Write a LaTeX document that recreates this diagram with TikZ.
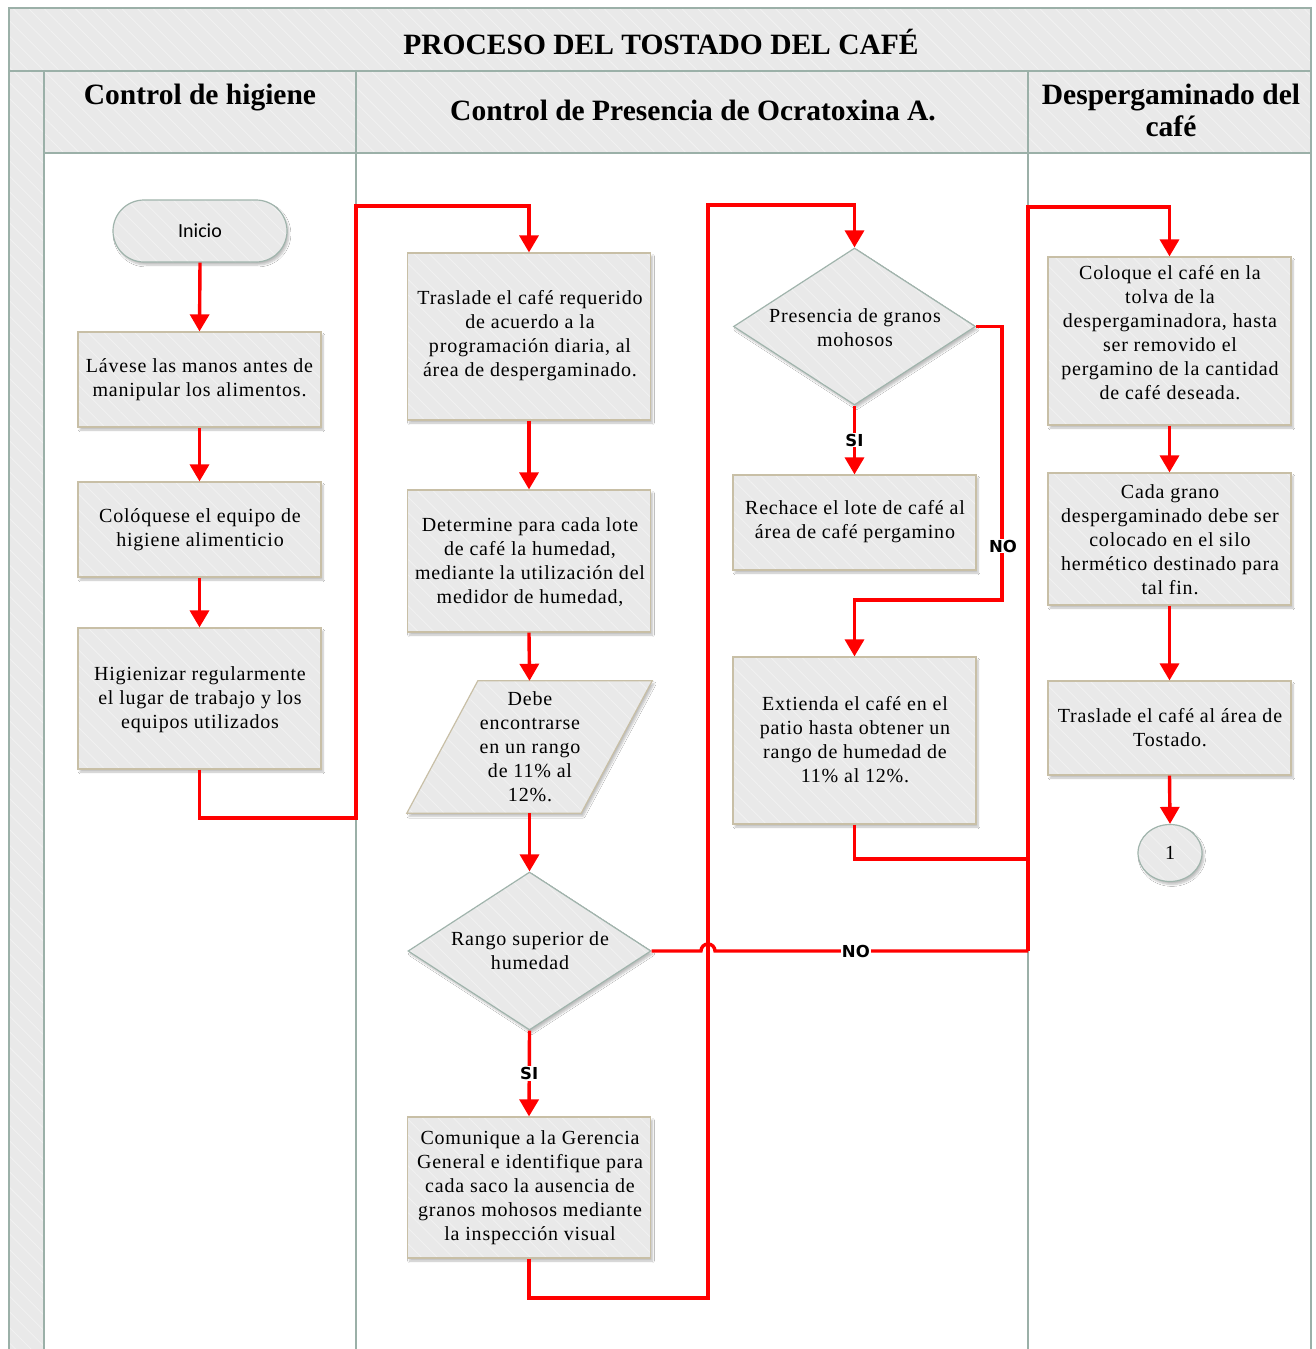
\documentclass[tikz,border=0pt]{standalone}
\usepackage{fontspec}
\setmainfont{Liberation Serif}
\newfontfamily\bodyf[LetterSpace=4]{Liberation Serif}
\newfontfamily\inif{Carlito}
\newfontfamily\lblf{DejaVu Sans}
\usetikzlibrary{arrows.meta,shapes.geometric,shadows.blur,patterns.meta,calc}
\definecolor{lanec}{RGB}{155,176,168}
\definecolor{boxc}{RGB}{200,191,166}
\definecolor{diac}{RGB}{160,180,172}
\definecolor{fillc}{RGB}{233,233,233}
\definecolor{hatchc}{RGB}{241,241,241}
\definecolor{redc}{RGB}{255,0,0}
\tikzset{
  hatch/.style={preaction={fill=fillc},pattern={Lines[angle=-45,distance=11pt,line width=0.9pt]},pattern color=hatchc},
  lanebg/.style={hatch,draw=lanec,line width=1.6pt},
  lanebody/.style={fill=white,draw=lanec,line width=1.6pt},
  shad/.style={blur shadow={shadow xshift=2pt,shadow yshift=-3pt,shadow blur steps=6,shadow opacity=25}},
  proc/.style={shad,hatch,draw=boxc,line width=1.2pt,minimum width=243pt,inner sep=0pt},
  dia/.style={diamond,shad,hatch,draw=diac,line width=1.2pt,inner sep=0pt},
  txt/.style={align=center,inner sep=0pt,font=\bodyf\fontsize{20}{24}\selectfont},
  hdr/.style={align=center,inner sep=0pt,font=\bfseries\fontsize{29.5}{31}\selectfont},
  conn/.style={draw=redc,line width=3.4pt},
  arr/.style={conn,-{Triangle[width=19pt,length=17pt]}},
  lbl/.style={fill=white,inner sep=1pt,font=\lblf\bfseries\fontsize{16.5}{18}\selectfont}
}
\begin{document}
\begin{tikzpicture}[x=1pt,y=-1pt]
\useasboundingbox (0,0) rectangle (1316,1349);
% swimlanes
\path[lanebg] (9,8) rectangle (1311,71);
\path[lanebg] (9,71) rectangle (44,1360);
\path[lanebody] (44,153) rectangle (356,1360);
\path[lanebody] (356,153) rectangle (1028,1360);
\path[lanebody] (1028,153) rectangle (1311,1360);
\path[lanebg] (44,71) rectangle (356,153);
\path[lanebg] (356,71) rectangle (1028,153);
\path[lanebg] (1028,71) rectangle (1311,153);
\node[hdr] (title) at (661,42) {PROCESO DEL TOSTADO DEL CAFÉ};
\node[hdr,anchor=base] (h1) at (200,104) {Control de higiene};
\node[hdr,anchor=base] (h2) at (693,120) {Control de Presencia de Ocratoxina A.};
\node[hdr,anchor=base] (h3) at (1171,104) {Despergaminado del};
\node[hdr,anchor=base] (h3b) at (1171,136) {café};

% lane 1
\node[shad,hatch,draw=diac,line width=1.2pt,rounded corners=31pt,minimum width=174pt,minimum height=62pt,font=\inif\fontsize{20}{22}\selectfont] (ini) at (200,231) {Inicio};
\node[proc,minimum height=95pt] (b1) at (199.5,379.5) {};
\node[txt] at (b1) {Lávese las manos antes de\\manipular los alimentos.};
\node[proc,minimum height=95pt] (b2) at (199.5,529.5) {};
\node[txt] at (200,530) {Colóquese el equipo de\\higiene alimenticio};
\node[proc,minimum height=141pt] (b3) at (199.5,698.5) {};
\node[txt] at (200,700) {Higienizar regularmente\\el lugar de trabajo y los\\equipos utilizados};

% lane 2
\node[proc,minimum height=167pt] (b4) at (529,336.5) {};
\node[txt] at (530,336) {Traslade el café requerido\\de acuerdo a la\\programación diaria, al\\área de despergaminado.};
\node[proc,minimum height=142pt] (b5) at (529,561) {};
\node[txt] at (530,562) {Determine para cada lote\\de café la humedad,\\mediante la utilización del\\medidor de humedad,};
\node[minimum width=245pt,minimum height=132pt,inner sep=0pt] (par) at (529.5,747) {};
\path[shad,hatch,draw=boxc,line width=1.2pt] ([xshift=71pt]par.north west) -- (par.north east) -- ([xshift=-71pt]par.south east) -- (par.south west) -- cycle;
\node[txt] at (530,747) {Debe\\encontrarse\\en un rango\\de 11\% al\\12\%.};
\node[dia,minimum width=243pt,minimum height=158pt] (d1) at (529.5,951) {};
\node[txt] at (530,951) {Rango superior de\\humedad};
\node[proc,minimum height=141pt] (b6) at (529,1187.5) {};
\node[txt] at (530,1188) {Comunique a la Gerencia\\General e identifique para\\cada saco la ausencia de\\granos mohosos mediante\\la inspección visual};

\node[dia,minimum width=242pt,minimum height=157pt] (d2) at (854.5,326.5) {};
\node[txt] at (855,328) {Presencia de granos\\mohosos};
\node[proc,minimum height=95pt] (b7) at (854.5,522.5) {};
\node[txt] at (855,522) {Rechace el lote de café al\\área de café pergamino};
\node[proc,minimum height=167pt] (b8) at (854.5,740.5) {};
\node[txt] at (855,740) {Extienda el café en el\\patio hasta obtener un\\rango de humedad de\\11\% al 12\%.};

% lane 3
\node[proc,minimum height=168pt] (b9) at (1169.5,341) {};
\node[txt] at (1170,333) {Coloque el café en la\\tolva de la\\despergaminadora, hasta\\ser removido el\\pergamino de la cantidad\\de café deseada.};
\node[proc,minimum height=132pt] (b10) at (1169.5,539) {};
\node[txt] at (1170,540) {Cada grano\\despergaminado debe ser\\colocado en el silo\\hermético destinado para\\tal fin.};
\node[proc,minimum height=94pt] (b11) at (1169.5,728) {};
\node[txt] at (1170,728) {Traslade el café al área de\\Tostado.};
\node[ellipse,shad,hatch,draw=diac,line width=1.2pt,minimum width=64pt,minimum height=57pt,inner sep=0pt,font=\fontsize{20}{22}\selectfont] (c1) at (1170,853) {1};

% connector corner points
\coordinate (k1) at (356,818);
\coordinate (k2) at (356,206);
\coordinate (k3) at (708,1298);
\coordinate (k4) at (708,205);
\coordinate (k5) at (1002,600);
\coordinate (k6) at (1028,859);
\coordinate (k7) at (1028,207);
\coordinate (k8) at (1028,951);
\coordinate (hop) at (701,951);

% connectors
\draw[arr] (ini.south) -- (b1.north);
\draw[arr] (b1.south) -- (b2.north);
\draw[arr] (b2.south) -- (b3.north);
\draw[arr] (b3.south) |- (k1) -- (k2) -| (b4.north);
\draw[arr] (b4.south) -- (b5.north);
\draw[arr] (b5.south) -- (par.north);
\draw[arr] (par.south) -- (d1.north);
\draw[arr] (d1.south) -- node[lbl,pos=0.5] {SI} (b6.north);
\draw[arr] (b6.south) |- (k3) -- (k4) -| (d2.north);
\draw[arr] (d2.south) -- node[lbl,pos=0.5] {SI} (b7.north);
\draw[arr] (d2.east) -| (k5) -| (b8.north);
\node[lbl] at (1003,546) {NO};
\draw[conn] (b8.south) |- (k6);
\draw[conn] (d1.east) -- (hop) arc[start angle=180,end angle=0,radius=7pt] -- node[lbl,pos=0.45] {NO} (k8);
\draw[arr] (k8) -- (k7) -| (b9.north);
\draw[arr] (b9.south) -- (b10.north);
\draw[arr] (b10.south) -- (b11.north);
\draw[arr] (b11.south) -- (c1.north);
\end{tikzpicture}
\end{document}
